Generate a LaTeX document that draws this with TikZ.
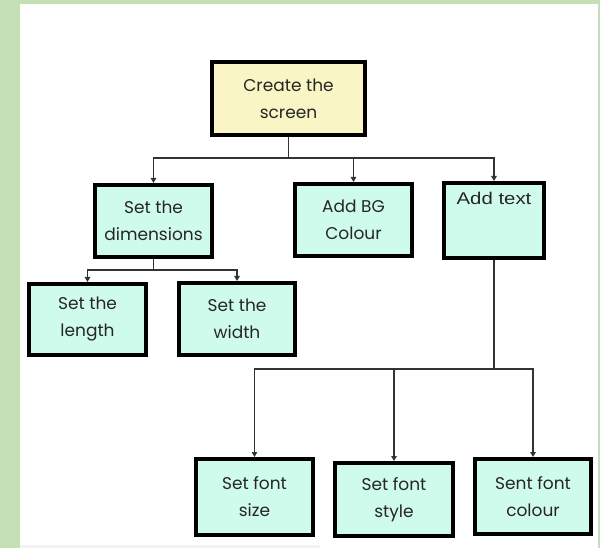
\documentclass[tikz,border=0pt]{standalone}
\usepackage{fontspec}
\usetikzlibrary{arrows.meta}
\newfontfamily\boxfont{Poppins}
\newfontfamily\arialfont[FakeStretch=1.2]{Liberation Sans}
\definecolor{pagegreen}{HTML}{C5E0B4}
\definecolor{stripgray}{HTML}{F2F2F2}
\definecolor{rootfill}{HTML}{FAF5C4}
\definecolor{leaffill}{HTML}{CFFBEC}
\definecolor{inkgray}{HTML}{262626}
\definecolor{wiregray}{HTML}{333333}
\tikzset{
  treebox/.style={draw=black, line width=4pt, inner sep=0pt, align=center,
    text=inkgray, font=\boxfont\fontsize{17}{27}\selectfont, fill=leaffill},
  wire/.style={draw=wiregray, line width=1.3pt},
  arrowwire/.style={wire, -{Triangle[width=5.5pt,length=5pt]}}
}
\begin{document}
\begin{tikzpicture}[x=1pt, y=-1pt]
  % page background and panel
  \fill[pagegreen] (0,0) rectangle (600,548);
  \fill[white] (20,4) rectangle (598,548);
  \fill[stripgray] (20,545) rectangle (320,548);
  \useasboundingbox (0,0) rectangle (600,548);

  % boxes (centre, outer size minus the border)
  \node[treebox, fill=rootfill, minimum width=153pt, minimum height=73pt] (create) at (288.5,98.5) {Create the\\screen};
  \node[treebox, minimum width=117pt, minimum height=72pt] (dims) at (153.5,221) {Set the\\dimensions};
  \node[treebox, minimum width=117pt, minimum height=72pt] (addbg) at (353.5,220) {Add BG\\Colour};
  \node[treebox, anchor=north, minimum width=100pt, text height=22pt, text depth=53pt,
        font=\arialfont\fontsize{17}{20}\selectfont] (addtext) at (494,181) {Add text};
  \node[treebox, minimum width=117pt, minimum height=71pt] (length) at (87.5,319.5) {Set the\\length};
  \node[treebox, minimum width=116pt, minimum height=72pt] (width) at (237,319) {Set the\\width};
  \node[treebox, minimum width=117pt, minimum height=76pt] (fsize) at (254.5,497) {Set font\\size};
  \node[treebox, minimum width=118pt, minimum height=73pt] (fstyle) at (394,499.5) {Set font\\style};
  \node[treebox, minimum width=116pt, minimum height=75pt] (fcolour) at (533,496.5) {Sent font\\colour};

  % junction points
  \coordinate (j1) at (288.5,158);
  \coordinate (j2) at (153.5,270);
  \coordinate (j3) at (494,369);

  % connectors
  \draw[wire] (create.south) -- (j1);
  \draw[arrowwire] (j1) -| (dims.north);
  \draw[arrowwire] (j1) -| (addbg.north);
  \draw[arrowwire] (j1) -| (addtext.north);

  \draw[wire] (dims.south) -- (j2);
  \draw[arrowwire] (j2) -| (length.north);
  \draw[arrowwire] (j2) -| (width.north);

  \draw[wire] (addtext.south) -- (j3);
  \draw[arrowwire] (j3) -| (fsize.north);
  \draw[arrowwire] (j3) -| (fstyle.north);
  \draw[arrowwire] (j3) -| (fcolour.north);
\end{tikzpicture}
\end{document}
